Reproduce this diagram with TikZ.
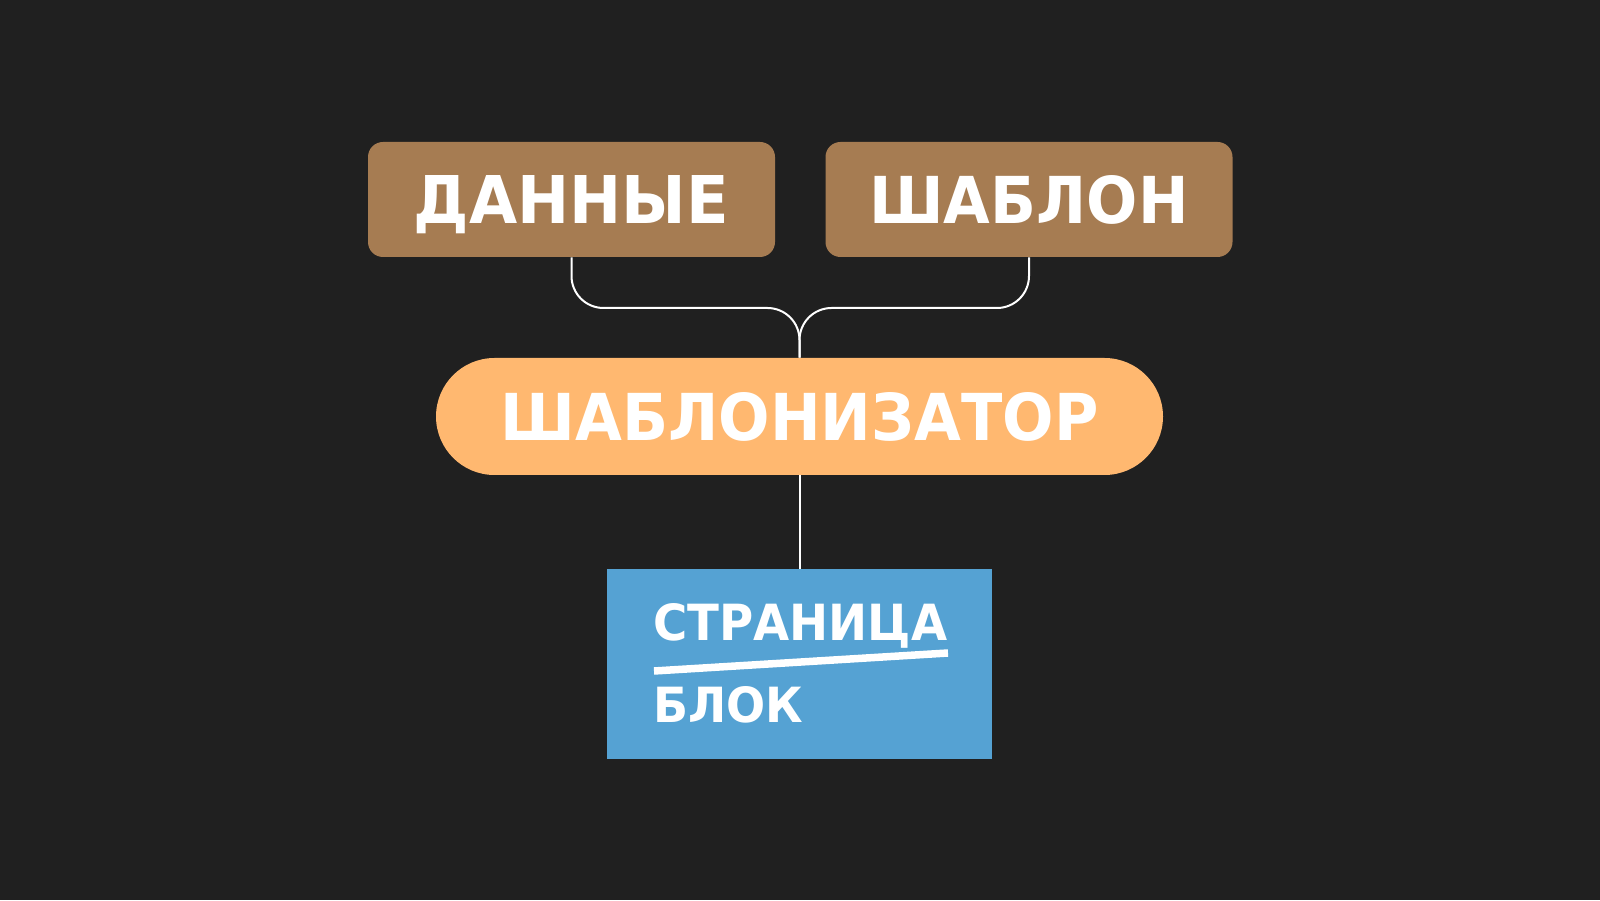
\documentclass[tikz,border=0pt]{standalone}
\usepackage{fontspec}
\setmainfont{DejaVu Sans}
\usepackage{graphicx}

\definecolor{bgdark}{HTML}{202020}
\definecolor{brownbox}{HTML}{A67C52}
\definecolor{orangebox}{HTML}{FFB870}
\definecolor{bluebox}{HTML}{55A2D3}

\newcommand{\fitlabel}[3]{\resizebox{#1}{#2}{\bfseries #3}}

\tikzset{
  inbox/.style={fill=brownbox, rounded corners=0.3cm, minimum width=8.14cm, minimum height=2.30cm,
    inner sep=0pt, text=white, text depth=0pt},
  enginebox/.style={fill=orangebox, rounded corners=1.17cm, minimum width=14.54cm, minimum height=2.34cm,
    inner sep=0pt, text=white, text depth=0pt},
  outbox/.style={fill=bluebox, minimum width=7.70cm, minimum height=3.80cm, inner sep=0pt},
  wire/.style={draw=white, line width=0.04cm, rounded corners=0.64cm},
}

\begin{document}
\begin{tikzpicture}
    % фон
    \fill[bgdark] (0,0) rectangle (32,18);
    \useasboundingbox (0,0) rectangle (32,18);

    \node[inbox] (data) at (11.43, 14.01) {\fitlabel{6.30cm}{0.96cm}{ДАННЫЕ}};
    \node[inbox] (templ) at (20.58, 14.01) {\fitlabel{6.38cm}{0.96cm}{ШАБЛОН}};
    \node[enginebox] (engine) at (15.99, 9.67) {\fitlabel{11.96cm}{0.96cm}{ШАБЛОНИЗАТОР}};
    \node[outbox] (page) at (15.99, 4.72) {};

    % текст в синем блоке
    \node[anchor=base west, inner sep=0pt, text=white] (pagetext) at (13.06, 5.20) {\fitlabel{5.88cm}{0.74cm}{СТРАНИЦА}};
    \node[anchor=base west, inner sep=0pt, text=white] (blocktext) at (13.06, 3.56) {\fitlabel{3.00cm}{0.72cm}{БЛОК}};
    \draw[white, line width=0.15cm] (13.08, 4.58) -- (18.96, 4.94);

    % линии
    \coordinate (join) at (15.99, 11.84);
    \draw[wire] (data.south) |- (join) -- (engine.north);
    \draw[wire] (templ.south) |- (join) -- (engine.north);
    \draw[wire] (engine.south) -- (page.north);
\end{tikzpicture}
\end{document}
